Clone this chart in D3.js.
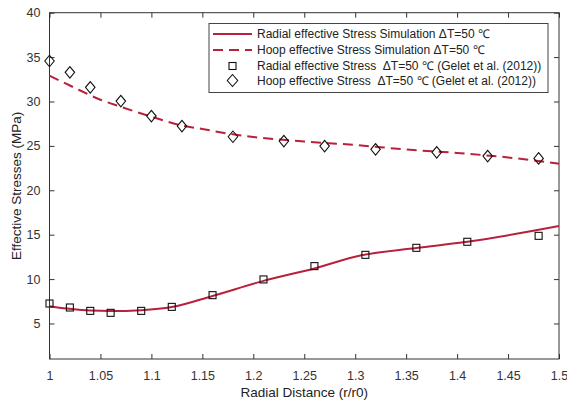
<!DOCTYPE html>
<html><head><meta charset="utf-8">
<script src="https://cdn.jsdelivr.net/npm/d3@7"></script>
<style>body{margin:0;background:#fff}svg{display:block}text{font-family:"Liberation Sans",Arial,sans-serif}</style>
</head><body><svg id="c" width="567" height="403"></svg>
<script>
const xTicks = [1,1.05,1.1,1.15,1.2,1.25,1.3,1.35,1.4,1.45,1.5];
const yTicks = [5,10,15,20,25,30,35,40];
const radialSimX = [1.0,1.02,1.04,1.06,1.09,1.12,1.16,1.21,1.26,1.305,1.36,1.41,1.5];
const radialSimY = [6.95,6.65,6.45,6.4,6.5,6.85,8.1,9.8,11.2,12.65,13.5,14.2,15.97];
const hoopSimX = [1.0,1.02,1.05,1.07,1.1,1.13,1.15,1.18,1.2,1.25,1.3,1.35,1.4,1.45,1.5];
const hoopSimY = [32.9,31.8,30.2,29.4,28.3,27.3,26.9,26.3,26.0,25.5,25.1,24.6,24.2,23.7,23.0];
const radialObsX = [1.0,1.02,1.04,1.06,1.09,1.12,1.16,1.21,1.26,1.31,1.36,1.41,1.48];
const radialObsY = [7.25,6.8,6.42,6.2,6.42,6.87,8.19,9.96,11.46,12.73,13.52,14.2,14.87];
const hoopObsX = [1.0,1.02,1.04,1.07,1.1,1.13,1.18,1.23,1.27,1.32,1.38,1.43,1.48];
const hoopObsY = [34.56,33.28,31.6,30.05,28.36,27.23,26.03,25.54,24.98,24.61,24.27,23.85,23.59];
const legendLabels = [
  "Radial effective Stress Simulation \u0394T=50 \u2103",
  "Hoop effective Stress Simulation \u0394T=50 \u2103",
  "Radial effective Stress  \u0394T=50 \u2103 (Gelet et al. (2012))",
  "Hoop effective Stress  \u0394T=50 \u2103 (Gelet et al. (2012))"
];

const svg = d3.select("#c");
const L=49.5, R=559, T=12.7, B=359;
const x = d3.scaleLinear().domain([1,1.5]).range([L,R]);
const y = d3.scaleLinear().domain([1,40]).range([B,T]);
const red = "#b8203c", axc = "#333", txc = "#333";

const tl = 5;
const gB = svg.append("g").attr("transform",`translate(0,${B})`)
  .call(d3.axisBottom(x).tickValues(xTicks).tickFormat(d3.format("")).tickSizeInner(-tl).tickSizeOuter(0).tickPadding(12));
const gL = svg.append("g").attr("transform",`translate(${L},0)`)
  .call(d3.axisLeft(y).tickValues(yTicks).tickFormat(d3.format("")).tickSizeInner(-tl).tickSizeOuter(0).tickPadding(9));
const gT = svg.append("g").attr("transform",`translate(0,${T})`)
  .call(d3.axisTop(x).tickValues(xTicks).tickFormat("").tickSizeInner(-tl).tickSizeOuter(0));
const gR = svg.append("g").attr("transform",`translate(${R},0)`)
  .call(d3.axisRight(y).tickValues(yTicks).tickFormat("").tickSizeInner(-tl).tickSizeOuter(0));
[gB,gL,gT,gR].forEach(g=>{
  g.select(".domain").remove();
  g.selectAll("line").attr("stroke",axc).attr("stroke-width",1);
  g.selectAll("text").attr("fill",txc).style("font-size","12.5px").style("font-family","'Liberation Sans',Arial,sans-serif");
});
svg.append("rect").attr("x",L).attr("y",T).attr("width",R-L).attr("height",B-T)
  .attr("fill","none").attr("stroke",axc).attr("stroke-width",1);

svg.append("text").attr("x",(L+R)/2).attr("y",397).attr("text-anchor","middle")
  .attr("fill","#222").style("font-size","13.5px").text("Radial Distance (r/r0)");
svg.append("text").attr("transform",`translate(21,${(T+B)/2}) rotate(-90)`).attr("text-anchor","middle")
  .attr("fill","#222").style("font-size","13.5px").text("Effective Stresses (MPa)");

const line = d3.line().x(d=>x(d[0])).y(d=>y(d[1]));
svg.append("path").datum(radialSimX.map((v,i)=>[v,radialSimY[i]]))
  .attr("d",line.curve(d3.curveMonotoneX)).attr("fill","none").attr("stroke",red).attr("stroke-width",2);
svg.append("path").datum(hoopSimX.map((v,i)=>[v,hoopSimY[i]]))
  .attr("d",line.curve(d3.curveMonotoneX)).attr("fill","none").attr("stroke",red).attr("stroke-width",2)
  .attr("stroke-dasharray","10,6");

const sq = 7;
svg.append("g").selectAll("rect").data(radialObsX.map((v,i)=>[v,radialObsY[i]])).join("rect")
  .attr("x",d=>x(d[0])-sq/2).attr("y",d=>y(d[1])-sq/2).attr("width",sq).attr("height",sq)
  .attr("fill","none").attr("stroke","#111").attr("stroke-width",1.1);
svg.append("g").selectAll("path").data(hoopObsX.map((v,i)=>[v,hoopObsY[i]])).join("path")
  .attr("transform",d=>`translate(${x(d[0])},${y(d[1])})`)
  .attr("d",d3.symbol().type({draw(ctx,size){const r=Math.sqrt(size)/2;ctx.moveTo(0,-r*1.15);ctx.lineTo(r*0.95,0);ctx.lineTo(0,r*1.15);ctx.lineTo(-r*0.95,0);ctx.closePath();}}).size(100))
  .attr("fill","none").attr("stroke","#111").attr("stroke-width",1.1);

const lg = svg.append("g");
lg.append("rect").attr("x",209).attr("y",23.5).attr("width",339).attr("height",69)
  .attr("fill","#fff").attr("stroke","#444").attr("stroke-width",1);
const rows = [34,50,66,80.5];
lg.append("line").attr("x1",213).attr("x2",252).attr("y1",rows[0]).attr("y2",rows[0]).attr("stroke",red).attr("stroke-width",2);
lg.append("line").attr("x1",213).attr("x2",252).attr("y1",rows[1]).attr("y2",rows[1]).attr("stroke",red).attr("stroke-width",2).attr("stroke-dasharray","10,6");
lg.append("rect").attr("x",232.5-3.5).attr("y",rows[2]-3.5).attr("width",7).attr("height",7).attr("fill","none").attr("stroke","#111").attr("stroke-width",1.1);
lg.append("path").attr("transform",`translate(232.5,${rows[3]})`)
  .attr("d","M0,-6L5.2,0L0,6L-5.2,0Z").attr("fill","none").attr("stroke","#111").attr("stroke-width",1.1);
lg.selectAll("text.l").data(legendLabels).join("text").attr("class","l")
  .attr("x",257).attr("y",(d,i)=>rows[i]).attr("dy","0.35em").attr("fill","#222")
  .style("font-size","12px").style("white-space","pre").attr("xml:space","preserve").text(d=>d);
</script></body></html>
